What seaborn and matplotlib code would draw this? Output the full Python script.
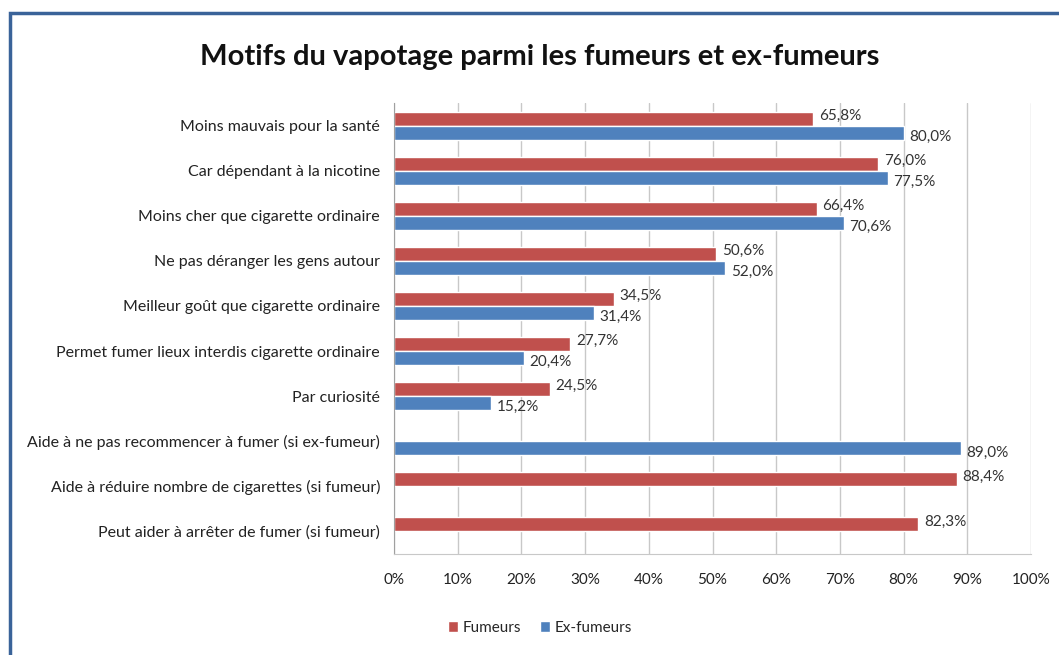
import numpy as np
import pandas as pd
import seaborn as sns
import matplotlib.pyplot as plt
from matplotlib.patches import Rectangle
from matplotlib.ticker import FixedLocator, PercentFormatter

motifs = [
    'Moins mauvais pour la santé',
    'Car dépendant à la nicotine',
    'Moins cher que cigarette ordinaire',
    'Ne pas déranger les gens autour',
    'Meilleur goût que cigarette ordinaire',
    'Permet fumer lieux interdis cigarette ordinaire',
    'Par curiosité',
    'Aide à ne pas recommencer à fumer (si ex-fumeur)',
    'Aide à réduire nombre de cigarettes (si fumeur)',
    'Peut aider à arrêter de fumer (si fumeur)',
]
fumeurs = [65.8, 76.0, 66.4, 50.6, 34.5, 27.7, 24.5, np.nan, 88.4, 82.3]
ex_fumeurs = [80.0, 77.5, 70.6, 52.0, 31.4, 20.4, 15.2, 89.0, np.nan, np.nan]
groupes = ['Fumeurs', 'Ex-fumeurs']
couleurs = ['#C0504D', '#4F81BD']

df = pd.DataFrame({'motif': motifs * 2,
                   'groupe': [groupes[0]] * len(motifs) + [groupes[1]] * len(motifs),
                   'valeur': fumeurs + ex_fumeurs})

sns.set_style('white')
plt.rcParams['font.family'] = ['Lato', 'DejaVu Sans']

fig = plt.figure(figsize=(10.59, 6.55), dpi=100)
ax = fig.add_axes([394 / 1059, 1 - 554 / 655, (1031 - 394) / 1059, (554 - 103) / 655])

sns.barplot(data=df, x='valeur', y='motif', hue='groupe', order=motifs, hue_order=groupes,
            palette=couleurs, orient='h', width=0.62, saturation=1, ax=ax, legend=True)

# value labels, comma decimals like the original
for cont, dy in zip(ax.containers, [-2, 3]):
    for bar in cont:
        w = bar.get_width()
        if np.isnan(w) or w == 0:
            continue
        ax.annotate(f'{w:.1f}%'.replace('.', ','), (w, bar.get_y() + bar.get_height() / 2),
                    xytext=(4, -dy), textcoords='offset points', va='center', ha='left',
                    fontsize=11, color='#333333')

ax.set_xlim(0, 100)
ax.xaxis.set_major_locator(FixedLocator(np.arange(0, 101, 10)))
ax.xaxis.set_major_formatter(PercentFormatter(decimals=0))
ax.grid(axis='x', color='#C8C8C8', lw=1)
ax.set_axisbelow(True)
ax.set_xlabel('')
ax.set_ylabel('')

for s in ['top', 'right']:
    ax.spines[s].set_visible(False)
ax.spines['left'].set_color('#A0A0A0')
ax.spines['bottom'].set_color('#C8C8C8')

ax.tick_params(axis='y', length=0, labelsize=11.5, labelcolor='#222222', pad=10)
ax.tick_params(axis='x', length=4, color='#A0A0A0', labelsize=11, labelcolor='#222222', pad=10)
ax.yaxis.set_minor_locator(FixedLocator(np.arange(-0.5, len(motifs), 1)))
ax.tick_params(axis='y', which='minor', length=5, color='#A0A0A0')

leg = ax.legend(loc='center', bbox_to_anchor=(540 / 1059, 1 - 628 / 655), bbox_transform=fig.transFigure,
                ncol=2, frameon=False, fontsize=11, handlelength=0.7, handleheight=0.7,
                handletextpad=0.3, columnspacing=1.2)

fig.text(540 / 1059, 1 - 57 / 655, 'Motifs du vapotage parmi les fumeurs et ex-fumeurs',
         ha='center', va='center', fontsize=21, fontweight='bold', color='#111111')

# chart frame (right and bottom edges are cropped in the original)
fig.patches.append(Rectangle((10 / 1059, -0.1), 1.2, 1 - 13 / 655 + 0.1, transform=fig.transFigure,
                             fill=False, edgecolor='#3A6399', lw=2.5))

fig.savefig('out.png', dpi=100)
